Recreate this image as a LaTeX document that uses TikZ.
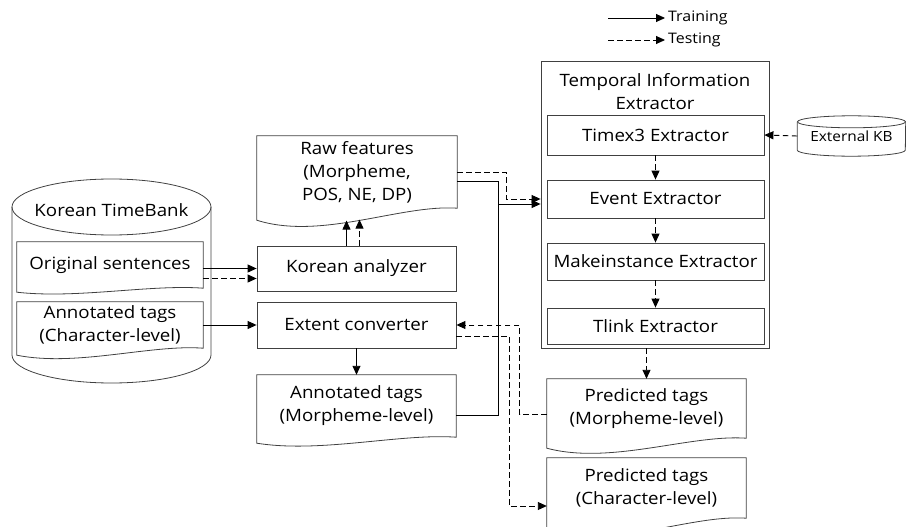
\documentclass[tikz,border=0pt]{standalone}
\usepackage{fontspec}
\setmainfont[FakeStretch=1.1]{Open Sans}
\usetikzlibrary{arrows.meta,calc}

% document shape: node name, drop of the left bottom corner
\newcommand{\drawdoc}[2]{%
  \draw[docline] (#1.north west) -- (#1.north east) -- (#1.south east)
    .. controls ($(#1.south east)!0.28!(#1.south west)+(0,-4)$)
    and ($(#1.south east)!0.68!(#1.south west)+(0,2.7*#2)$)
    .. ($(#1.south west)+(0,#2)$) -- cycle;}

\begin{document}
\begin{tikzpicture}[
    x=1pt, y=-1pt,
    font=\fontsize{17}{23}\selectfont
]
	\tikzset{
	    docline/.style = {draw=black!75, line width=0.8pt},
	    box/.style = {docline, minimum width=199pt, align=center, inner sep=0pt},
	    docnode/.style = {align=center, inner sep=0pt},
	    legend/.style = {anchor=west, inner sep=0pt, font=\fontsize{14.5}{16}\selectfont},
	    train/.style = {-{Triangle[length=9pt,width=8pt]}, line width=0.9pt},
	    test/.style = {train, dash pattern=on 5.5pt off 3.5pt}
	}
	\useasboundingbox (0,0) rectangle (906,527);

	% legend
	\node[legend] (trtxt) at (668,18) {Training};
	\node[legend] (tetxt) at (668,40) {Testing};
	\draw[train] ($(trtxt.west)+(-60,0)$) -- ($(trtxt.west)+(-3,0)$);
	\draw[test] ($(tetxt.west)+(-60,0)$) -- ($(tetxt.west)+(-3,0)$);

	% Korean TimeBank
	\draw[docline] (12,207) -- (12,355) arc[start angle=180, end angle=0, x radius=99.5, y radius=28] -- (211,207);
	\draw[docline] (111.5,207) ellipse[x radius=99.5, y radius=28];
	\node (ktb) at (111.5,210) {Korean TimeBank};
	\node[docnode, minimum width=186pt, minimum height=46pt] (orig) at (110,265) {Original sentences};
	\drawdoc{orig}{4}
	\node[docnode, minimum width=186pt, minimum height=46pt] (annc) at (110,325) {Annotated tags\\(Character-level)};
	\drawdoc{annc}{7}

	% middle column
	\node[docnode, minimum width=200pt, minimum height=72pt] (raw) at (357,172) {Raw features\\(Morpheme,\\POS, NE, DP)};
	\drawdoc{raw}{12}
	\node[box, minimum height=45pt] (kor) at (356.5,268.5) {Korean analyzer};
	\node[box, minimum height=46pt] (ext) at (356.5,325) {Extent converter};
	\node[docnode, minimum width=199pt, minimum height=62pt] (annm) at (356.5,406) {Annotated tags\\(Morpheme-level)};
	\drawdoc{annm}{6}

	% temporal information extractor
	\node[box, minimum width=228pt, minimum height=287pt] (tie) at (655,204.5) {};
	\node[align=center] (tietitle) at (655,91.5) {Temporal Information\\Extractor};
	\node[box, minimum width=217pt, minimum height=40pt] (timex) at (655.5,135) {Timex3 Extractor};
	\node[box, minimum width=217pt, minimum height=38pt] (event) at (655.5,199) {Event Extractor};
	\node[box, minimum width=217pt, minimum height=37pt] (make) at (655.5,261.5) {Makeinstance Extractor};
	\node[box, minimum width=217pt, minimum height=36pt] (tlink) at (655.5,326) {Tlink Extractor};

	% external KB
	\node[minimum width=108pt, minimum height=40pt, font=\fontsize{14}{17}\selectfont] (kb) at (851.5,136) {External KB};
	\draw[docline] ($(kb.north west)+(0,6)$) -- ($(kb.south west)+(0,-6)$) arc[start angle=180, end angle=0, x radius=54, y radius=6] -- ($(kb.north east)+(0,6)$);
	\draw[docline] ($(kb.north)+(0,6)$) ellipse[x radius=54, y radius=6];

	% outputs
	\node[docnode, minimum width=199pt, minimum height=59pt] (predm) at (646.5,408.5) {Predicted tags\\(Morpheme-level)};
	\drawdoc{predm}{10}
	\node[docnode, minimum width=199pt, minimum height=60pt] (predc) at (646.5,488) {Predicted tags\\(Character-level)};
	\drawdoc{predc}{12}

	% connectors
	\coordinate (jn) at (498,204);
	\draw[train] (orig.east |- kor.west) -- (kor.west);
	\draw[test] ($(orig.east |- kor.west)+(0,10)$) -- ($(kor.west)+(0,10)$);
	\draw[train] (annc.east |- ext.west) -- (ext.west);
	\draw[train] ($(kor.north)+(-10,0)$) -- ++(0,-25);
	\draw[test] ($(kor.north)+(3,0)$) -- ++(0,-26);
	\draw[train] (ext.south) -- (annm.north);
	\draw[train] ($(raw.east)+(0,9)$) -| (jn) -- ($(tie.west |- event.west)+(0,5)$);
	\draw[line width=0.9pt] ($(annm.east)+(0,9)$) -| (jn);
	\draw[test] (raw.east) -- ++(49,0) |- (tie.west |- event.west);
	\draw[test] (kb.west) -- (timex.east);
	\draw[test] (timex.south) -- (event.north);
	\draw[test] (event.south) -- (make.north);
	\draw[test] (make.south) -- (tlink.north);
	\draw[test] (tie.south -| predm.north) -- (predm.north);
	\draw[test] ($(predm.west)+(0,6)$) -- ++(-27,0) |- (ext.east);
	\draw[test] ($(ext.east)+(0,11)$) -- ++(53,0) |- ($(predc.west)+(0,18)$);
\end{tikzpicture}
\end{document}
